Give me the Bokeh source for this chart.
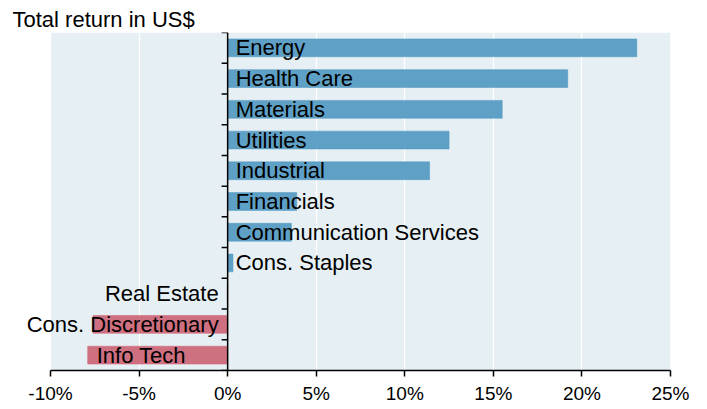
import math
from bokeh.plotting import figure
from bokeh.models import ColumnDataSource, Range1d, FixedTicker, PrintfTickFormatter, Span
from bokeh.embed import file_html
from bokeh.resources import INLINE
from bokeh.core.properties import value

# ---- data (top to bottom) ----
categories = ["Energy", "Health Care", "Materials", "Utilities", "Industrial",
              "Financials", "Communication Services", "Cons. Staples",
              "Real Estate", "Cons. Discretionary", "Info Tech"]
returns = [23.1, 19.2, 15.5, 12.5, 11.4, 3.9, 3.6, 0.3, -0.02, -7.6, -7.9]
x_ticks = [-10, -5, 0, 5, 10, 15, 20, 25]
y_title = "Total return in US$"

FONT = "Liberation Sans"
BLUE = "#4f97c1"
PINK = "#cc6274"
BG = "#e6eff3"
LABEL_PX = 22

n = len(categories)
ypos = [n - 1 - i for i in range(n)]
colors = [BLUE if v > 0 else PINK for v in returns]
x_min, x_max = x_ticks[0], x_ticks[-1]
y_min, y_max = -0.5, n - 0.5

# layout in pixels: shaded panel 620 px wide, with 50 px of room on its left for labels
PANEL_W, LEFT_PAD = 620, 50
px_per_unit = PANEL_W / (x_max - x_min)
x_start = x_min - LEFT_PAD / px_per_unit

src = ColumnDataSource(dict(cat=categories, val=returns, y=ypos, color=colors))

# label placement: positives start right of zero; negatives go inside the bar when they fit,
# otherwise they end just left of zero
pos_l, in_l, out_l = [], [], []
for i, v in enumerate(returns):
    if v > 0:
        pos_l.append(i)
    elif len(categories[i]) * 0.5 * LABEL_PX + 12 < -v * px_per_unit:
        in_l.append(i)
    else:
        out_l.append(i)

def sub(idx):
    return ColumnDataSource(dict(y=[ypos[i] for i in idx],
                                 val=[returns[i] for i in idx],
                                 cat=[categories[i] for i in idx]))

p = figure(width=707, height=409,
           x_range=Range1d(x_start, x_max), y_range=Range1d(y_min, y_max),
           output_backend="svg", toolbar_location=None,
           y_axis_location=None,
           min_border_left=0, min_border_right=37,
           min_border_top=32, min_border_bottom=39)

p.background_fill_color = "white"
p.border_fill_color = "white"
p.outline_line_color = None

# shaded panel behind grid
p.quad(left=[x_min], right=[x_max], bottom=[y_min], top=[y_max],
       fill_color=BG, line_color=None, level="image")

p.hbar(y="y", left=0, right="val", height=0.58, source=src,
       fill_color="color", fill_alpha=0.9, line_color="color", line_alpha=0.5, line_width=1)

txt = dict(text_baseline="middle", text_font=value(FONT),
           text_font_size=f"{LABEL_PX}px", text_color="black")
p.text(x=0, y="y", text="cat", source=sub(pos_l), x_offset=8, text_align="left", **txt)
p.text(x="val", y="y", text="cat", source=sub(in_l), x_offset=9, text_align="left", **txt)
p.text(x=0, y="y", text="cat", source=sub(out_l), x_offset=-9, text_align="right", **txt)

# x axis
xa = p.xaxis[0]
xa.bounds = (x_min, x_max)
xa.ticker = FixedTicker(ticks=x_ticks, minor_ticks=[])
xa.formatter = PrintfTickFormatter(format="%d%%")
xa.major_tick_out = 6
xa.major_tick_in = 0
xa.minor_tick_line_color = None
xa.axis_line_color = "black"
xa.axis_line_width = 1.5
xa.major_tick_line_color = "black"
xa.major_tick_line_width = 1.5
xa.major_label_standoff = 6
xa.major_label_text_font = FONT
xa.major_label_text_font_size = "19px"
xa.major_label_text_color = "black"

p.xgrid.ticker = FixedTicker(ticks=x_ticks)
p.xgrid.grid_line_color = "white"
p.xgrid.grid_line_width = 1.3
p.ygrid.grid_line_color = None

# zero line acting as the category axis, ticks at category boundaries
p.add_layout(Span(location=0, dimension="height", line_color="black", line_width=1.5))
bounds = [y_min + k for k in range(n + 1)]
p.ray(x=0, y=bounds, length=6, angle=math.pi, length_units="screen",
      line_color="black", line_width=1.5)

# subtitle-like title, top left
p.title.text = y_title
p.title.align = "left"
p.title.offset = 12
p.title.standoff = 2
p.title.text_font = FONT
p.title.text_font_size = "22px"
p.title.text_font_style = "normal"
p.title.text_color = "black"

open("out.html", "w").write(file_html(p, INLINE))
